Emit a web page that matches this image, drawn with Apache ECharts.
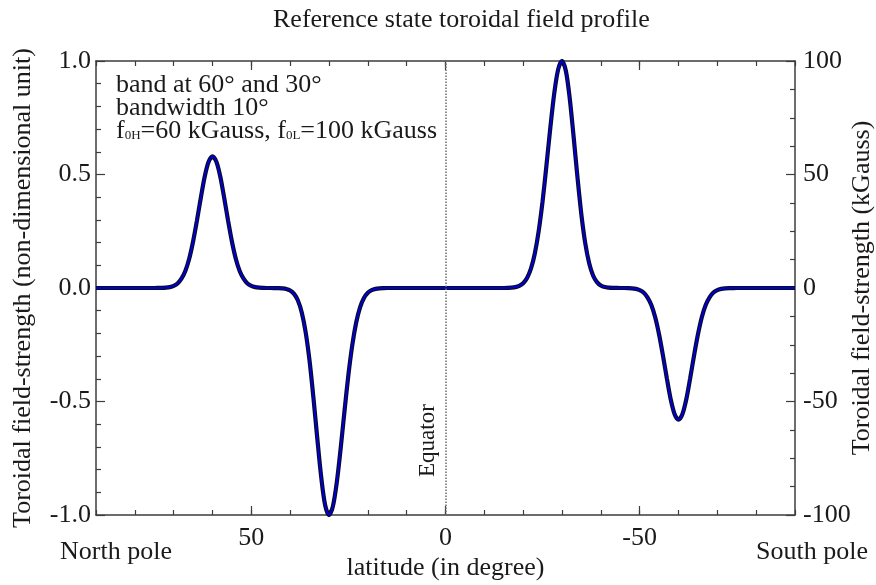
<!DOCTYPE html>
<html>
<head>
<meta charset="utf-8">
<title>Reference state toroidal field profile</title>
<script src="https://cdn.jsdelivr.net/npm/echarts@6/dist/echarts.min.js"></script>
<style>
  html, body { margin: 0; padding: 0; background: #ffffff; }
  #chart { width: 876px; height: 585px; }
</style>
</head>
<body>
<div id="chart"></div>
<script>
// Latitude samples (degrees, north pole = +90, south pole = -90)
const latitude = [
  90, 85, 80, 77, 76, 75, 74, 73, 72, 71, 70, 69, 68, 67, 66, 65, 64, 63, 62, 61,
  60, 59, 58, 57, 56, 55, 54, 53, 52, 51, 50, 49, 48, 47, 46, 45, 44, 43, 42, 41,
  40, 39, 38, 37, 36, 35, 34, 33, 32, 31, 30, 29, 28, 27, 26, 25, 24, 23, 22, 21,
  20, 19, 18, 17, 16, 15, 12, 8, 4, 0, -4, -8, -12, -15, -16, -17, -18, -19, -20,
  -21, -22, -23, -24, -25, -26, -27, -28, -29, -30, -31, -32, -33, -34, -35, -36,
  -37, -38, -39, -40, -41, -42, -43, -44, -45, -46, -47, -48, -49, -50, -51, -52,
  -53, -54, -55, -56, -57, -58, -59, -60, -61, -62, -63, -64, -65, -66, -67, -68,
  -69, -70, -71, -72, -73, -74, -75, -76, -77, -80, -85, -90
];

// Toroidal field strength (non-dimensional) at each latitude sample
const fieldStrength = [
  0, 0, 0, 0, 0, 0, 0.0002, 0.0005, 0.0015, 0.004, 0.009, 0.020, 0.041, 0.075, 0.129, 0.205, 0.298, 0.398, 0.491, 0.556,
  0.580, 0.556, 0.491, 0.398, 0.298, 0.205, 0.129, 0.075, 0.041, 0.020, 0.009, 0.004, 0.0015, 0.0005, 0, 0, -0.0002, -0.0005, -0.0015, -0.004,
  -0.011, -0.026, -0.055, -0.109, -0.196, -0.322, -0.485, -0.665, -0.834, -0.956, -1.000, -0.962, -0.857, -0.707, -0.541, -0.382, -0.251, -0.152, -0.085, -0.044,
  -0.021, -0.0095, -0.004, -0.0015, -0.0005, 0, 0, 0, 0, 0, 0, 0, 0, 0, 0.0005, 0.0015, 0.004, 0.0095, 0.021,
  0.044, 0.085, 0.152, 0.251, 0.382, 0.541, 0.707, 0.857, 0.962, 1.000, 0.956, 0.834, 0.665, 0.485, 0.322, 0.196,
  0.109, 0.055, 0.026, 0.011, 0.004, 0.0015, 0.0005, 0.0002, 0, 0, -0.0005, -0.0015, -0.004, -0.009, -0.020, -0.041,
  -0.075, -0.129, -0.205, -0.298, -0.398, -0.491, -0.556, -0.580, -0.556, -0.491, -0.398, -0.298, -0.205, -0.129, -0.075, -0.041,
  -0.020, -0.009, -0.004, -0.0015, -0.0005, -0.0002, 0, 0, 0, 0, 0, 0
];

// Axis tick values
const latitudeLabelTicks = [50, 0, -50];
const leftTickLabels = ['-1.0', '-0.5', '0.0', '0.5', '1.0'];
const rightTickLabels = ['-100', '-50', '0', '50', '100'];

const profile = latitude.map((lat, i) => [lat, fieldStrength[i]]);

const FONT = 'Liberation Serif';
const TEXT = '#1a1a1a';
const AXIS = '#3c3c3c';

const chart = echarts.init(document.getElementById('chart'), null, { renderer: 'canvas' });

function latAxis(position, major, showLabel, extra) {
  return Object.assign({
    type: 'value',
    gridIndex: 0,
    position: position,
    min: -90,
    max: 90,
    inverse: true,
    interval: 10,
    axisLine: { show: major, onZero: false, lineStyle: { color: AXIS, width: 1.5 } },
    axisTick: major
      ? { show: true, inside: true, length: 9, customValues: latitudeLabelTicks, lineStyle: { color: AXIS, width: 1.2 } }
      : { show: true, inside: true, length: 5, lineStyle: { color: AXIS, width: 1.2 } },
    axisLabel: showLabel
      ? { show: true, customValues: latitudeLabelTicks, fontFamily: FONT, fontSize: 26, color: TEXT, margin: 10 }
      : { show: false },
    splitLine: { show: false }
  }, extra || {});
}

const option = {
  backgroundColor: '#ffffff',
  animation: false,
  title: {
    text: 'Reference state toroidal field profile',
    left: 268,
    top: 2,
    textStyle: { fontFamily: FONT, fontSize: 26, fontWeight: 'normal', color: TEXT }
  },
  grid: { left: 96, right: 81, top: 61, bottom: 70, containLabel: false, outerBoundsMode: 'none' },
  xAxis: [
    latAxis('bottom', true, true, {
      name: 'latitude (in degree)',
      nameLocation: 'middle',
      nameGap: 40,
      nameMoveOverlap: false,
      nameTextStyle: { fontFamily: FONT, fontSize: 26, color: TEXT }
    }),
    latAxis('bottom', false, false),
    latAxis('top', true, false),
    latAxis('top', false, false)
  ],
  yAxis: [
    {
      type: 'value',
      position: 'left',
      min: -1,
      max: 1,
      interval: 0.5,
      axisLine: { show: true, onZero: false, lineStyle: { color: AXIS, width: 1.5 } },
      axisTick: { show: true, inside: true, length: 9, lineStyle: { color: AXIS, width: 1.2 } },
      minorTick: { show: true, splitNumber: 5, length: 5, lineStyle: { color: AXIS, width: 1.2 } },
      axisLabel: {
        fontFamily: FONT, fontSize: 26, color: TEXT, margin: 5,
        formatter: (v) => leftTickLabels[Math.round((v + 1) / 0.5)]
      },
      splitLine: { show: false },
      name: 'Toroidal field-strength (non-dimensional unit)',
      nameLocation: 'middle',
      nameRotate: 90,
      nameGap: 60,
      nameMoveOverlap: false,
      nameTextStyle: { fontFamily: FONT, fontSize: 26, color: TEXT }
    },
    {
      type: 'value',
      position: 'right',
      min: -100,
      max: 100,
      interval: 50,
      axisLine: { show: true, onZero: false, lineStyle: { color: AXIS, width: 1.5 } },
      axisTick: { show: true, inside: true, length: 9, lineStyle: { color: AXIS, width: 1.2 } },
      minorTick: { show: true, splitNumber: 4, length: 5, lineStyle: { color: AXIS, width: 1.2 } },
      axisLabel: {
        fontFamily: FONT, fontSize: 26, color: TEXT, margin: 8,
        formatter: (v) => rightTickLabels[Math.round((v + 100) / 50)]
      },
      splitLine: { show: false },
      name: 'Toroidal field-strength (kGauss)',
      nameLocation: 'middle',
      nameRotate: 90,
      nameGap: 54,
      nameMoveOverlap: false,
      nameTextStyle: { fontFamily: FONT, fontSize: 26, color: TEXT }
    }
  ],
  graphic: [
    {
      type: 'text',
      left: 116,
      top: 72,
      style: {
        text: 'band at 60° and 30°\nbandwidth 10°\nf{sub|0H}=60 kGauss, f{sub|0L}=100 kGauss',
        fontFamily: FONT,
        fontSize: 26,
        lineHeight: 23,
        fill: TEXT,
        rich: {
          sub: { fontFamily: FONT, fontSize: 13, fill: TEXT, verticalAlign: 'bottom', lineHeight: 23 }
        }
      }
    },
    {
      type: 'text',
      left: 60,
      top: 539,
      style: { text: 'North pole', fontFamily: FONT, fontSize: 26, fill: TEXT }
    },
    {
      type: 'text',
      right: 8,
      top: 539,
      style: { text: 'South pole', fontFamily: FONT, fontSize: 26, fill: TEXT }
    }
  ],
  series: [
    {
      // dark outline under the profile
      type: 'line',
      xAxisIndex: 0,
      yAxisIndex: 0,
      data: profile,
      showSymbol: false,
      smooth: 0.3,
      lineStyle: { color: '#0a0a20', width: 4.2 },
      z: 3,
      markLine: {
        silent: true,
        symbol: ['none', 'none'],
        lineStyle: { type: 'dotted', color: '#6e6e6e', width: 1.5 },
        label: {
          show: true,
          formatter: 'Equator',
          position: 'insideStartTop',
          distance: [38, 6],
          fontFamily: FONT,
          fontSize: 23,
          color: TEXT
        },
        data: [{ xAxis: 0 }]
      }
    },
    {
      type: 'line',
      xAxisIndex: 0,
      yAxisIndex: 0,
      data: profile,
      showSymbol: false,
      smooth: 0.3,
      lineStyle: { color: '#0000d0', width: 2 },
      z: 4
    }
  ]
};

chart.setOption(option);
</script>
</body>
</html>
